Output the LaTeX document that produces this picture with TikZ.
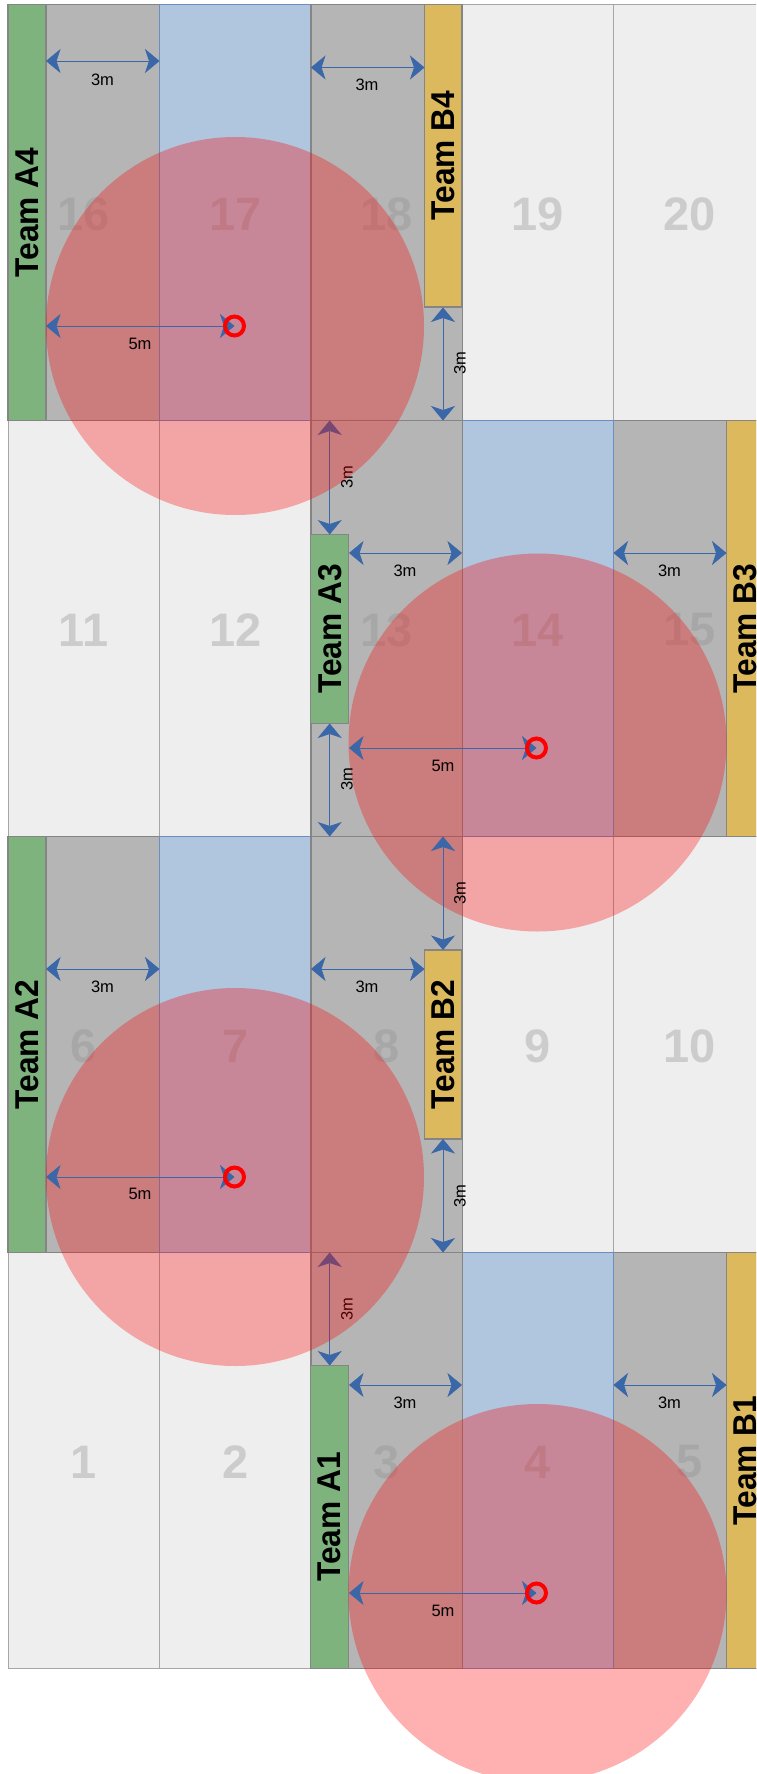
\documentclass[tikz,border=0pt]{standalone}
\usepackage{fontspec}
\setmainfont{Liberation Sans}
\usetikzlibrary{arrows.meta}
\definecolor{cellline}{HTML}{858585}
\definecolor{lightline}{HTML}{A6A6A6}
\definecolor{lightcell}{HTML}{EEEEEE}
\definecolor{graycell}{HTML}{B5B5B5}
\definecolor{bluecell}{HTML}{B0C5DE}
\definecolor{blueline}{HTML}{6C8EBF}
\definecolor{greenbar}{HTML}{7EB37E}
\definecolor{yellowbar}{HTML}{DCB95C}
\definecolor{arrowblue}{HTML}{3A67A8}
\definecolor{numcolor}{HTML}{8F8F8F}
\newcommand{\cellnum}[1]{\raisebox{-1.5pt}[\height][\depth]{#1}}
\newcommand{\teamname}[1]{\scalebox{0.96}[1]{#1}}
\tikzset{
  x=1pt,y=-1pt,
  cellbase/.style={shape=rectangle,inner sep=0pt,outer sep=0pt,minimum width=151.5pt,minimum height=416pt,
    font=\fontsize{47}{47}\selectfont\bfseries,text=numcolor,text opacity=0.35},
  lightc/.style={cellbase,line width=1pt,draw=lightline,fill=lightcell},
  grayc/.style={cellbase,line width=1.5pt,draw=cellline,fill=graycell},
  bluec/.style={cellbase,line width=1.3pt,draw=blueline,fill=bluecell},
  teambar/.style={shape=rectangle,inner sep=0pt,outer sep=0pt,line width=1.1pt,draw=cellline},
  teamtext/.style={inner sep=0pt,rotate=90,font=\fontsize{33}{33}\selectfont\bfseries},
  greenb/.style={teambar,fill=greenbar},
  yellowb/.style={teambar,fill=yellowbar},
  dimline/.style={draw=arrowblue,line width=0.7pt,{Stealth[length=14.5pt,width=24pt,inset=4pt]}-{Stealth[length=14.5pt,width=24pt,inset=4pt]}},
  dimlabel/.style={inner sep=0pt,font=\fontsize{16.5}{16.5}\selectfont},
  vlabel/.style={dimlabel,rotate=90},
  zone/.style={shape=circle,inner sep=0pt,outer sep=0pt,minimum size=378pt,fill=red,fill opacity=0.31},
  ring/.style={shape=circle,inner sep=0pt,outer sep=0pt,minimum size=19pt,draw=red,line width=4pt},
}
\begin{document}
\begin{tikzpicture}
\useasboundingbox (0,0) rectangle (756,1774);
\clip (0,0) rectangle (756,1774);
\fill[white] (0,0) rectangle (756,1774);

% light cells
\node[lightc] (c19) at (537.75,212.5) {\cellnum{19}};
\node[lightc] (c20) at (689.25,212.5) {\cellnum{20}};
\node[lightc] (c11) at (83.75,628.5) {\cellnum{11}};
\node[lightc] (c12) at (235.25,628.5) {\cellnum{12}};
\node[lightc] (c9)  at (537.75,1044.5) {\cellnum{9}};
\node[lightc] (c10) at (689.25,1044.5) {\cellnum{10}};
\node[lightc] (c1)  at (83.75,1460.5) {\cellnum{1}};
\node[lightc] (c2)  at (235.25,1460.5) {\cellnum{2}};
% row 1
\node[grayc]  (c16) at (83.75,212.5) {\cellnum{16}};
\node[bluec]  (c17) at (235.25,212.5) {\cellnum{17}};
\node[grayc]  (c18) at (386.75,212.5) {\cellnum{18}};
% row 2
\node[grayc]  (c15) at (689.25,628.5) {\cellnum{15}};
\node[bluec]  (c14) at (537.75,628.5) {\cellnum{14}};
\node[grayc]  (c13) at (386.75,628.5) {\cellnum{13}};
% row 3
\node[grayc]  (c6)  at (83.75,1044.5) {\cellnum{6}};
\node[bluec]  (c7)  at (235.25,1044.5) {\cellnum{7}};
\node[grayc]  (c8)  at (386.75,1044.5) {\cellnum{8}};
% row 4
\node[grayc]  (c5)  at (689.25,1460.5) {\cellnum{5}};
\node[bluec]  (c4)  at (537.75,1460.5) {\cellnum{4}};
\node[grayc]  (c3)  at (386.75,1460.5) {\cellnum{3}};

% team bars
\node[greenb,minimum width=38pt,minimum height=416pt] (a4) at (27,212.5) {};
\node[teamtext] at (a4.center) {\teamname{Team A4}};
\node[yellowb,minimum width=37.5pt,minimum height=302.5pt] (b4) at (443.25,155.75) {};
\node[teamtext] at (b4.center) {\teamname{Team B4}};
\node[greenb,minimum width=38pt,minimum height=189pt] (a3) at (329.7,629) {};
\node[teamtext] at (a3.center) {\teamname{Team A3}};
\node[yellowb,minimum width=38pt,minimum height=416pt] (b3) at (745.5,628.5) {};
\node[teamtext] at (b3.center) {\teamname{Team B3}};
\node[greenb,minimum width=38pt,minimum height=416pt] (a2) at (27,1044.5) {};
\node[teamtext] at (a2.center) {\teamname{Team A2}};
\node[yellowb,minimum width=37.5pt,minimum height=189pt] (b2) at (443.25,1044.5) {};
\node[teamtext] at (b2.center) {\teamname{Team B2}};
\node[greenb,minimum width=38pt,minimum height=303pt] (a1) at (329.7,1517) {};
\node[teamtext] at (a1.center) {\teamname{Team A1}};
\node[yellowb,minimum width=38pt,minimum height=416pt] (b1) at (745.5,1460.5) {};
\node[teamtext] at (b1.center) {\teamname{Team B1}};

% connector ends
\coordinate (h1a) at (46,61);      \coordinate (h1b) at (159.5,61);
\coordinate (h2a) at (311,67.5);   \coordinate (h2b) at (424.5,67.5);
\coordinate (h3a) at (349,553);    \coordinate (h3b) at (462,553);
\coordinate (h4a) at (613.5,553);  \coordinate (h4b) at (726.5,553);
\coordinate (h5a) at (46,969);     \coordinate (h5b) at (159.5,969);
\coordinate (h6a) at (311,969);    \coordinate (h6b) at (424.5,969);
\coordinate (h7a) at (349,1385);   \coordinate (h7b) at (462,1385);
\coordinate (h8a) at (613.5,1385); \coordinate (h8b) at (726.5,1385);
\coordinate (v1a) at (443,307.5);  \coordinate (v1b) at (443,420.5);
\coordinate (v2a) at (329.7,420.5);\coordinate (v2b) at (329.7,534.5);
\coordinate (v3a) at (329.7,723.5);\coordinate (v3b) at (329.7,836.5);
\coordinate (v4a) at (443,836.5);  \coordinate (v4b) at (443,950);
\coordinate (v5a) at (443,1139);   \coordinate (v5b) at (443,1252.5);
\coordinate (v6a) at (329.7,1252.5);\coordinate (v6b) at (329.7,1365.5);
\coordinate (r1a) at (46,326);
\coordinate (r2a) at (349,748);
\coordinate (r3a) at (46,1177);
\coordinate (r4a) at (349,1593);

% dimensions lying under the zones
\draw[dimline] (v2a) -- (v2b);
\draw[dimline] (v6a) -- (v6b);
\node[vlabel] (lv2) at (347,477) {3m};
\node[vlabel] (lv6) at (347,1309) {3m};

% zones
\node[zone] (z1) at (235,326) {};
\node[zone] (z2) at (537.5,742.5) {};
\node[zone] (z3) at (235,1177) {};
\node[zone] (z4) at (537.5,1593) {};

% ring positions
\coordinate (p1) at (234.5,326);
\coordinate (p2) at (536.5,748);
\coordinate (p3) at (234.5,1177);
\coordinate (p4) at (536.5,1593);

% dimensions above the zones
\draw[dimline] (h1a) -- (h1b);
\draw[dimline] (h2a) -- (h2b);
\draw[dimline] (h3a) -- (h3b);
\draw[dimline] (h4a) -- (h4b);
\draw[dimline] (h5a) -- (h5b);
\draw[dimline] (h6a) -- (h6b);
\draw[dimline] (h7a) -- (h7b);
\draw[dimline] (h8a) -- (h8b);
\draw[dimline] (v1a) -- (v1b);
\draw[dimline] (v3a) -- (v3b);
\draw[dimline] (v4a) -- (v4b);
\draw[dimline] (v5a) -- (v5b);
\draw[dimline] (r1a) -- (p1);
\draw[dimline] (r2a) -- (p2);
\draw[dimline] (r3a) -- (p3);
\draw[dimline] (r4a) -- (p4);

\node[ring] (t1) at (p1) {};
\node[ring] (t2) at (p2) {};
\node[ring] (t3) at (p3) {};
\node[ring] (t4) at (p4) {};

% labels
\node[dimlabel] (lh1) at (102.5,80) {3m};
\node[dimlabel] (lh2) at (367,84.5) {3m};
\node[dimlabel] (lh3) at (405,570.7) {3m};
\node[dimlabel] (lh4) at (669.5,570.7) {3m};
\node[dimlabel] (lh5) at (102.5,987) {3m};
\node[dimlabel] (lh6) at (367,987) {3m};
\node[dimlabel] (lh7) at (405,1403) {3m};
\node[dimlabel] (lh8) at (669.5,1403) {3m};
\node[dimlabel] (lr1) at (140,344) {5m};
\node[dimlabel] (lr2) at (443,766) {5m};
\node[dimlabel] (lr3) at (140,1194) {5m};
\node[dimlabel] (lr4) at (443,1611) {5m};
\node[vlabel] (lv1) at (460,363) {3m};
\node[vlabel] (lv3) at (347,779) {3m};
\node[vlabel] (lv4) at (460,893) {3m};
\node[vlabel] (lv5) at (460,1196) {3m};
\end{tikzpicture}
\end{document}
